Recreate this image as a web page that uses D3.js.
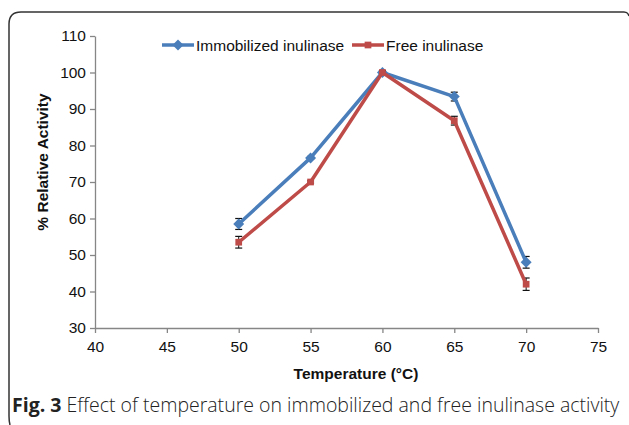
<!DOCTYPE html>
<html>
<head>
<meta charset="utf-8">
<script src="https://cdn.jsdelivr.net/npm/d3@7"></script>
<style>
  body { margin: 0; background: #fff; }
  svg { display: block; }
</style>
</head>
<body>
<div id="chart"></div>
<script>
// temperatures (°C)
var temps = [50, 55, 60, 65, 70];
// % relative activity and error bars
var immobilized = [58.5, 76.6, 100, 93.4, 48];
var immobilizedErr = [1.5, 0.4, 0.5, 1.2, 1.6];
var free = [53.5, 70, 100, 86.8, 42];
var freeErr = [1.6, 0.3, 0.5, 1.2, 1.7];
var xTicks = [40, 45, 50, 55, 60, 65, 70, 75];
var yTicks = [30, 40, 50, 60, 70, 80, 90, 100, 110];

var W = 629, H = 425;
var FONT = "'Liberation Sans', Arial, sans-serif";
var svg = d3.select("#chart").append("svg")
    .attr("width", W).attr("height", H);

// panel frame
svg.append("path")
    .attr("d", "M10,425 Q9,421 9,416 L9,24 Q9,12 21,12 L624,12 Q628,12 629,16")
    .attr("fill", "none")
    .attr("stroke", "#333")
    .attr("stroke-width", 1.5);

var x = d3.scaleLinear().domain([40, 75]).range([95, 598]);
var y = d3.scaleLinear().domain([30, 110]).range([328, 36]);

var yAxis = svg.append("g")
    .attr("transform", "translate(95,0)")
    .call(d3.axisLeft(y).tickValues(yTicks).tickSize(5).tickSizeOuter(0).tickPadding(4));
var xAxis = svg.append("g")
    .attr("transform", "translate(0,328)")
    .call(d3.axisBottom(x).tickValues(xTicks).tickSize(5).tickSizeOuter(0).tickPadding(5));

[yAxis, xAxis].forEach(function(g) {
  g.attr("font-size", null).attr("font-family", null);
  g.select(".domain").attr("stroke", "#868686").attr("stroke-width", 1.3);
  g.selectAll(".tick line").attr("stroke", "#868686").attr("stroke-width", 1.3);
  g.selectAll("text")
    .attr("fill", "#111")
    .style("font-family", FONT)
    .style("font-size", "15.5px");
});
xAxis.selectAll("text").attr("dy", "0.9em");

// axis titles
svg.append("text")
    .attr("transform", "translate(48,162) rotate(-90)")
    .attr("text-anchor", "middle")
    .style("font-family", FONT)
    .style("font-size", "15.5px")
    .style("font-weight", "bold")
    .attr("fill", "#111")
    .text("% Relative Activity");

svg.append("text")
    .attr("x", 356).attr("y", 379)
    .attr("text-anchor", "middle")
    .style("font-family", FONT)
    .style("font-size", "15.5px")
    .style("font-weight", "bold")
    .attr("fill", "#111")
    .text("Temperature (°C)");

// diamond = square turned 45 degrees
var series = [
  {name: "Immobilized inulinase", vals: immobilized, err: immobilizedErr, color: "#4a7ebb", shape: d3.symbolSquare, size: 60, rot: 45},
  {name: "Free inulinase", vals: free, err: freeErr, color: "#be4b48", shape: d3.symbolSquare, size: 45, rot: 0}
];

var line = d3.line()
    .x(function(d) { return x(d.t); })
    .y(function(d) { return y(d.v); });

series.forEach(function(s) {
  var pts = temps.map(function(t, i) { return {t: t, v: s.vals[i], e: s.err[i]}; });
  var g = svg.append("g");

  // error bars
  var eb = g.selectAll(".eb").data(pts).enter().append("g").attr("class", "eb");
  eb.append("line")
    .attr("x1", function(d) { return x(d.t); }).attr("x2", function(d) { return x(d.t); })
    .attr("y1", function(d) { return y(d.v + d.e); }).attr("y2", function(d) { return y(d.v - d.e); })
    .attr("stroke", "#111").attr("stroke-width", 1);
  eb.selectAll(".cap").data(function(d) { return [d.v + d.e, d.v - d.e].map(function(v) { return {t: d.t, v: v}; }); })
    .enter().append("line")
    .attr("x1", function(d) { return x(d.t) - 3.5; }).attr("x2", function(d) { return x(d.t) + 3.5; })
    .attr("y1", function(d) { return y(d.v); }).attr("y2", function(d) { return y(d.v); })
    .attr("stroke", "#111").attr("stroke-width", 1.2);

  g.append("path")
    .datum(pts)
    .attr("d", line)
    .attr("fill", "none")
    .attr("stroke", s.color)
    .attr("stroke-width", 3.5)
    .attr("stroke-linejoin", "round");

  g.selectAll(".mk").data(pts).enter().append("path")
    .attr("transform", function(d) { return "translate(" + x(d.t) + "," + y(d.v) + ") rotate(" + s.rot + ")"; })
    .attr("d", d3.symbol().type(s.shape).size(s.size))
    .attr("fill", s.color);
});

// legend
var legX = [162, 352];
series.forEach(function(s, i) {
  var lg = svg.append("g").attr("transform", "translate(" + legX[i] + ",45)");
  lg.append("line").attr("x1", 0).attr("x2", 32).attr("y1", 0).attr("y2", 0)
    .attr("stroke", s.color).attr("stroke-width", 3.5);
  lg.append("path").attr("transform", "translate(16,0) rotate(" + s.rot + ")")
    .attr("d", d3.symbol().type(s.shape).size(s.size)).attr("fill", s.color);
  lg.append("text").attr("x", 34).attr("y", 5.5)
    .style("font-family", FONT)
    .style("font-size", "15.5px")
    .attr("fill", "#111")
    .text(s.name);
});

// caption
var cap = svg.append("text")
    .attr("x", 12).attr("y", 412)
    .style("font-family", "'Open Sans', 'Noto Sans', sans-serif")
    .style("font-size", "19.5px")
    .attr("fill", "#222");
cap.append("tspan").style("font-weight", "bold").text("Fig. 3");
cap.append("tspan").style("font-weight", "300").text(" Effect of temperature on immobilized and free inulinase activity");
</script>
</body>
</html>
